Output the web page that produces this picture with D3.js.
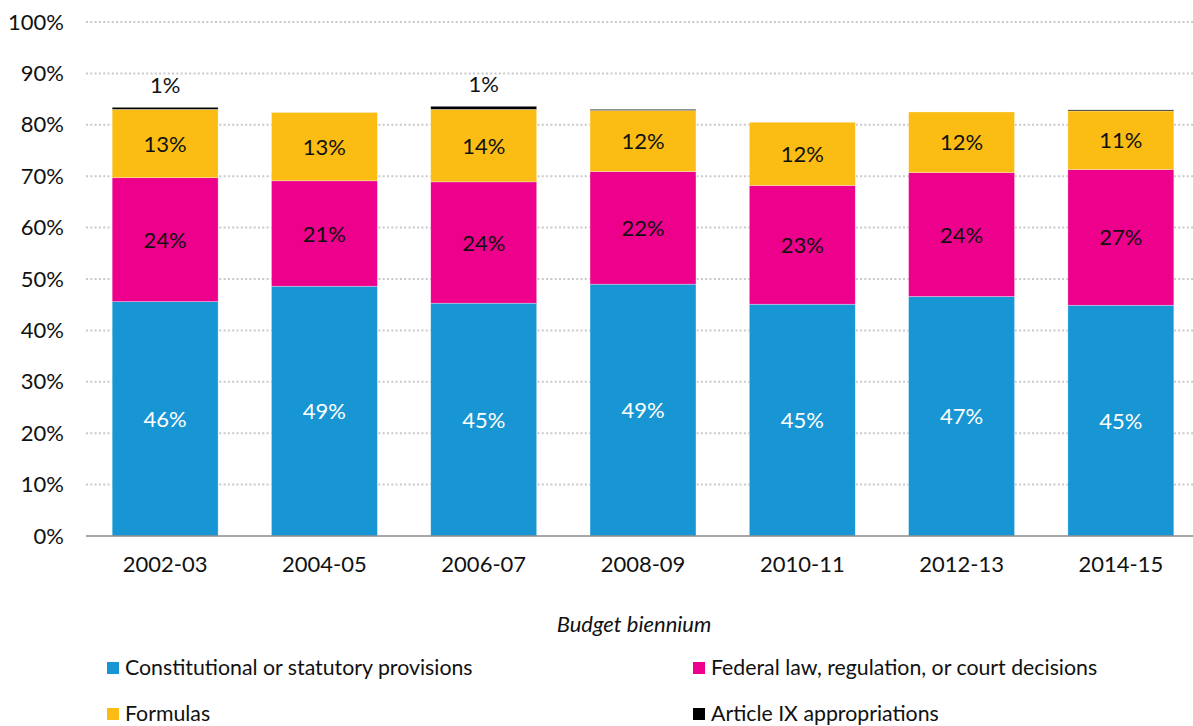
<!DOCTYPE html>
<html>
<head>
<meta charset="utf-8">
<script src="https://cdn.jsdelivr.net/npm/d3@7"></script>
<style>
  body { margin: 0; background: #fff; }
  svg { font-family: Lato, "Open Sans", sans-serif; display: block; }
</style>
</head>
<body>
<div id="chart"></div>
<script>
// data (percent of total)
var years = ["2002-03", "2004-05", "2006-07", "2008-09", "2010-11", "2012-13", "2014-15"]
var constitutional = [45.6, 48.6, 45.3, 49.0, 45.1, 46.6, 44.9]
var federal = [24.1, 20.5, 23.6, 21.9, 23.1, 24.1, 26.4]
var formulas = [13.3, 13.3, 14.1, 11.9, 12.3, 11.8, 11.4]
var articleIX = [0.4, 0, 0.6, 0.2, 0, 0, 0.2]
var seriesNames = ["Constitutional or statutory provisions", "Federal law, regulation, or court decisions", "Formulas", "Article IX appropriations"]
var seriesLabels = [
  ["46%", "49%", "45%", "49%", "45%", "47%", "45%"],
  ["24%", "21%", "24%", "22%", "23%", "24%", "27%"],
  ["13%", "13%", "14%", "12%", "12%", "12%", "11%"],
  ["1%", "", "1%", "", "", "", ""]
]
var yTicks = [0, 10, 20, 30, 40, 50, 60, 70, 80, 90, 100]
var colors = ["#1896d3", "#ec008c", "#fbbd13", "#000000"]

var W = 1193, H = 726

var rows = years.map(function (y, i) {
  return { year: y, s0: constitutional[i], s1: federal[i], s2: formulas[i], s3: articleIX[i], idx: i }
})
var stack = d3.stack().keys(["s0", "s1", "s2", "s3"])(rows)

var x = d3.scaleBand()
  .domain(years)
  .range([85.5, 1200.5])
  .paddingInner(0.335)
  .paddingOuter(0.1675)

var y = d3.scaleLinear()
  .domain([0, 100])
  .range([536, 22])

var svg = d3.select("#chart").append("svg")
  .attr("width", W)
  .attr("height", H)

// grid
svg.append("g")
  .selectAll("line")
  .data(yTicks.filter(d => d > 0))
  .join("line")
  .attr("x1", 86)
  .attr("x2", W)
  .attr("y1", d => y(d))
  .attr("y2", d => y(d))
  .attr("stroke", "#c9c9c9")
  .attr("stroke-width", 2)
  .attr("stroke-dasharray", "2,2.3")

// y tick labels
var yAxis = svg.append("g")
  .attr("transform", "translate(74,0)")
  .call(d3.axisLeft(y).tickValues(yTicks).tickFormat(d => d + "%").tickSize(0).tickPadding(10))
yAxis.select(".domain").remove()
yAxis.selectAll("text")
  .attr("font-size", 22)
  .attr("font-family", "Lato")
  .attr("fill", "#111")

// bars
var layer = svg.append("g")
  .selectAll("g")
  .data(stack)
  .join("g")
  .attr("fill", (d, i) => colors[i])

layer.selectAll("rect")
  .data(d => d)
  .join("rect")
  .attr("x", d => x(d.data.year))
  .attr("width", x.bandwidth())
  .attr("y", d => y(d[1]))
  .attr("height", d => y(d[0]) - y(d[1]))
  .attr("stroke", "#fff")
  .attr("stroke-opacity", 0.5)
  .attr("stroke-width", 0.6)

// x axis
var xAxis = svg.append("g")
  .attr("transform", "translate(0,536)")
  .call(d3.axisBottom(x).tickSize(0).tickPadding(20))
xAxis.select(".domain")
  .attr("d", "M86,0H" + W)
  .attr("stroke", "#8a8a8a")
  .attr("stroke-width", 1.6)
xAxis.selectAll("text")
  .attr("font-size", 22)
  .attr("font-family", "Lato")
  .attr("fill", "#111")

// value labels
stack.forEach(function (s, k) {
  svg.append("g")
    .selectAll("text")
    .data(s)
    .join("text")
    .attr("x", d => x(d.data.year) + x.bandwidth() / 2)
    .attr("y", function (d) {
      if (k == 3) return y(d[1]) - 14
      return (y(d[0]) + y(d[1])) / 2 + 8
    })
    .attr("text-anchor", "middle")
    .attr("font-size", 22)
    .attr("fill", k == 0 ? "#fff" : "#111")
    .text(d => seriesLabels[k][d.data.idx])
})

// axis title
svg.append("text")
  .attr("x", 634)
  .attr("y", 632)
  .attr("text-anchor", "middle")
  .attr("font-size", 22)
  .attr("font-style", "italic")
  .attr("fill", "#111")
  .text("Budget biennium")

// legend
var legendPos = [[107, 662], [693, 662], [107, 708], [693, 708]]
var order = [0, 1, 2, 3]
var legend = svg.append("g")
  .selectAll("g")
  .data(order)
  .join("g")
  .attr("transform", d => `translate(${legendPos[d][0]},${legendPos[d][1]})`)
legend.append("rect")
  .attr("width", 12)
  .attr("height", 12)
  .attr("fill", d => colors[d])
legend.append("text")
  .attr("x", 18)
  .attr("y", 13)
  .attr("font-size", 21.3)
  .attr("fill", "#111")
  .text(d => seriesNames[d])
</script>
</body>
</html>
